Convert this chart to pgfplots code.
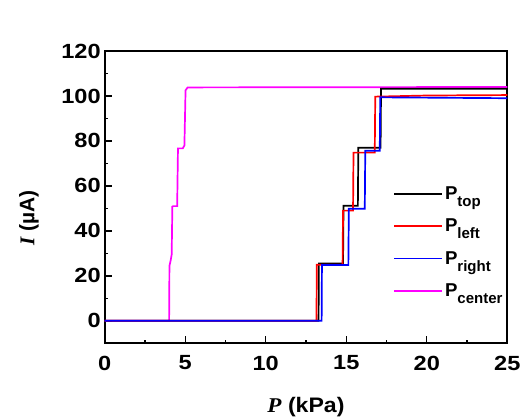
\documentclass[border=0pt]{standalone}
\usepackage{fontspec}
\setmainfont{Liberation Sans}
\newfontfamily\seriffont{Liberation Serif}
\usepackage{pgfplots}
\pgfplotsset{compat=1.18}
\definecolor{mag}{RGB}{255,0,255}
\definecolor{myred}{RGB}{255,0,0}
\definecolor{myblue}{RGB}{0,0,255}
\newcommand{\sub}[1]{\raisebox{-7pt}{\fontsize{15}{15}\selectfont\bfseries #1}}
\pgfplotsset{
  legend image code/.code={\draw[#1] (0pt,0pt) -- (48pt,0pt);},
}
\begin{document}
\begin{tikzpicture}
\path[use as bounding box] (0,0) rectangle (522pt,420pt);
\begin{axis}[
  at={(104.7pt,76.7pt)}, anchor=south west,
  scale only axis, width=402.6pt, height=292.3pt,
  xmin=0, xmax=25, ymin=-10, ymax=120,
  xtick={0,5,...,25}, ytick={0,20,...,120},
  minor x tick num=1, minor y tick num=1,
  tick pos=left, tick align=inside,
  major tick length=7pt, minor tick length=3.5pt,
  axis line style={line width=1.8pt, black},
  every tick/.style={line width=1.4pt, black},
  /pgf/number format/assume math mode=true,
  ticklabel style={font=\fontsize{20.5}{21}\selectfont\bfseries, xscale=1.15},
  xticklabel style={yshift=-9pt},
  xlabel={{\seriffont\bfseries\itshape P} (kPa)},
  ylabel={{\seriffont\bfseries\itshape I} (µA)},
  xlabel style={font=\fontsize{21}{22}\selectfont\bfseries, xscale=1.1, at={(axis description cs:0.5,-0.218)}, anchor=center},
  ylabel style={font=\fontsize{21}{22}\selectfont\bfseries, at={(axis description cs:-0.188,0.429)}, anchor=center},
  legend style={draw=none, fill=none, at={(rel axis cs:0.709,0.55)}, anchor=north west,
    font=\fontsize{18.6}{20}\selectfont\bfseries, row sep=14pt},
  legend cell align=left,
]
\addplot[mag, line width=1.7pt, forget plot] coordinates {
(0,0) (4.00,0) (4.02,24.4) (4.10,27) (4.16,29.5) (4.20,50.8) (4.25,51) (4.50,51) (4.55,76.7) (4.85,76.7) (4.95,78) (5.02,102.5) (5.15,103.8) (25,104)
};
\addplot[black, line width=1.7pt] coordinates {
(0,0) (13.28,0) (13.30,25.5) (14.80,25.5) (14.83,51.2) (15.72,51.2) (15.75,77.0) (17.13,77.0) (17.16,103.2) (25,103.2)
};
\addlegendentry{P\sub{top}}
\addplot[myred, line width=1.7pt] coordinates {
(0,0) (13.15,0) (13.17,24.9) (14.77,24.9) (14.80,49.0) (15.42,49.0) (15.45,74.8) (16.77,74.8) (16.80,99.7) (20,100.2) (25,100.4)
};
\addlegendentry{P\sub{left}}
\addplot[myblue, line width=1.7pt] coordinates {
(0,0) (13.47,0) (13.49,24.8) (15.13,24.8) (15.16,49.8) (16.15,49.8) (16.18,75.6) (17.08,75.6) (17.11,99.4) (25,99.0)
};
\addlegendentry{P\sub{right}}
\addlegendimage{mag, line width=1.7pt}
\addlegendentry{P\sub{center}}
\node[anchor=base east, font=\fontsize{18.6}{20}\selectfont\bfseries, xscale=1.15, inner sep=0pt] at (rel axis cs:0.945,1.06) {Supply voltage : 1 V};
\end{axis}
\end{tikzpicture}
\end{document}
